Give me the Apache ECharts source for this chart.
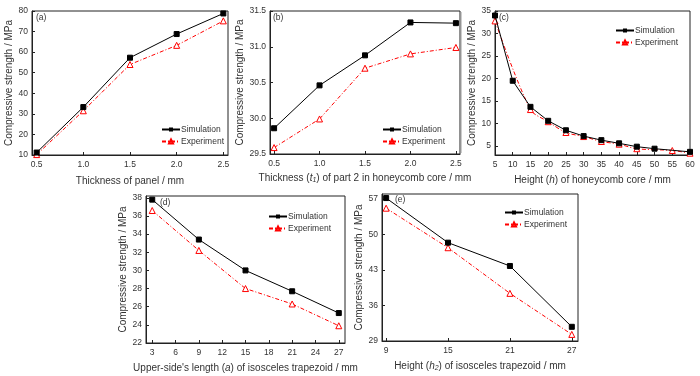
<!DOCTYPE html>
<html>
<head>
<meta charset="utf-8">
<script src="https://cdn.jsdelivr.net/npm/echarts@6/dist/echarts.min.js"></script>
<style>
  html, body { margin: 0; padding: 0; background: #fff; }
  #chart { width: 700px; height: 376px; }
</style>
</head>
<body>
<div id="chart"></div>
<script>
// (a) thickness of panel
var xA = [0.5, 1.0, 1.5, 2.0, 2.5];
var simA = [11.2, 33.3, 57.3, 68.8, 78.8];
var expA = [10.2, 31.5, 54.0, 63.3, 75.2];
// (b) thickness t1 of part 2
var xB = [0.5, 1.0, 1.5, 2.0, 2.5];
var simB = [29.86, 30.46, 30.88, 31.34, 31.33];
var expB = [29.59, 29.99, 30.70, 30.90, 30.99];
// (c) height h of honeycomb core
var xCsim = [5, 10, 15, 20, 25, 30, 35, 40, 45, 50, 60];
var simC = [34.0, 19.5, 13.7, 10.6, 8.5, 7.2, 6.3, 5.6, 4.85, 4.4, 3.7];
var xCexp = [5, 15, 20, 25, 30, 35, 40, 45, 55, 60];
var expC = [32.8, 13.1, 10.4, 8.0, 7.1, 6.0, 5.4, 4.4, 4.0, 3.4];
// (d) upper-side's length a
var xD = [3, 9, 15, 21, 27];
var simD = [37.8, 33.4, 30.0, 27.7, 25.3];
var expD = [36.6, 32.2, 28.0, 26.3, 23.9];
// (e) height h2 of trapezoid
var xE = [9, 15, 21, 27];
var simE = [57.2, 48.4, 43.8, 31.8];
var expE = [55.2, 47.4, 38.4, 30.3];

// tick labels
var ticksX_AB = [0.5, 1.0, 1.5, 2.0, 2.5];
var ticksY_A = [10, 20, 30, 40, 50, 60, 70, 80];
var ticksY_B = [29.5, 30.0, 30.5, 31.0, 31.5];
var ticksX_C = [5, 10, 15, 20, 25, 30, 35, 40, 45, 50, 55, 60];
var ticksY_C = [5, 10, 15, 20, 25, 30, 35];
var ticksX_D = [3, 6, 9, 12, 15, 18, 21, 24, 27];
var ticksY_D = [22, 24, 26, 28, 30, 32, 34, 36, 38];
var ticksX_E = [9, 15, 21, 27];
var ticksY_E = [29, 36, 43, 50, 57];

var FONT = 'Liberation Sans, Arial, sans-serif';
var yName = 'Compressive strength / MPa';

function pairs(xs, ys) {
    return xs.map(function (x, i) { return [x, ys[i]]; });
}

var grids = [
    {left: 32, top: 11, width: 196, height: 144},
    {left: 270, top: 11, width: 190, height: 143},
    {left: 495, top: 11, width: 195, height: 144},
    {left: 146, top: 196, width: 199, height: 147},
    {left: 382, top: 194, width: 196, height: 147}
];
grids.forEach(function (g) {
    g.show = true;
    g.borderColor = '#222';
    g.borderWidth = 1;
    g.backgroundColor = 'transparent';
});

var rich = {
    i: {fontStyle: 'italic', fontSize: 10, fontFamily: FONT, color: '#333'},
    sub: {fontStyle: 'italic', fontSize: 7, fontFamily: FONT, color: '#333', verticalAlign: 'bottom', padding: [4, 0, 0, 0]}
};

function xAxis(idx, min, max, ticks, name, gap, fmt) {
    return {
        type: 'value', gridIndex: idx, min: min, max: max,
        name: name, nameLocation: 'middle', nameGap: gap,
        nameTextStyle: {fontSize: 10, fontFamily: FONT, color: '#333', rich: rich},
        axisLine: {show: true, lineStyle: {color: '#222', width: 1}},
        axisTick: {show: true, inside: true, length: 3, customValues: ticks, lineStyle: {color: '#222'}},
        axisLabel: {customValues: ticks, fontSize: 8.5, fontFamily: FONT, color: '#333', margin: 5,
            formatter: fmt || function (v) { return v; }},
        splitLine: {show: false}
    };
}

function yAxis(idx, min, max, ticks, gap, fmt) {
    return {
        type: 'value', gridIndex: idx, min: min, max: max,
        name: yName, nameLocation: 'middle', nameGap: gap,
        nameTextStyle: {fontSize: 10, fontFamily: FONT, color: '#333'},
        axisLine: {show: true, lineStyle: {color: '#222', width: 1}},
        axisTick: {show: true, inside: true, length: 3, customValues: ticks, lineStyle: {color: '#222'}},
        axisLabel: {customValues: ticks, fontSize: 8.5, fontFamily: FONT, color: '#333', margin: 4,
            formatter: fmt || function (v) { return v; }},
        splitLine: {show: false}
    };
}

var fix1 = function (v) { return v.toFixed(1); };

function simSeries(idx, data) {
    return {
        name: 'Simulation', type: 'line', xAxisIndex: idx, yAxisIndex: idx,
        data: data, symbol: 'rect', symbolSize: 5, showAllSymbol: true,
        lineStyle: {color: '#000', width: 1},
        itemStyle: {color: '#000', borderColor: '#000'},
        z: 3
    };
}

function expSeries(idx, data, smooth) {
    return {
        name: 'Experiment', type: 'line', xAxisIndex: idx, yAxisIndex: idx,
        data: data, symbol: 'triangle', symbolSize: 6, showAllSymbol: true,
        smooth: smooth || false,
        lineStyle: {color: '#ff0000', width: 1, type: [4, 2, 1, 2]},
        itemStyle: {color: '#fff', borderColor: '#ff0000', borderWidth: 1},
        z: 2
    };
}

function legend(left, top) {
    return {
        data: ['Simulation', 'Experiment'], orient: 'vertical', left: left, top: top,
        itemWidth: 18, itemHeight: 5, itemGap: 3, padding: 0,
        textStyle: {fontSize: 8.5, fontFamily: FONT, color: '#333', padding: [0, 0, 0, -4]}
    };
}

function panelLabel(x, y, text) {
    return {type: 'text', left: x, top: y, style: {text: text, fontSize: 8.5, fontFamily: FONT, fill: '#333'}};
}

var option = {
    animation: false,
    grid: grids,
    xAxis: [
        xAxis(0, 0.45, 2.55, ticksX_AB, 'Thickness of panel / mm', 21, fix1),
        xAxis(1, 0.455, 2.545, ticksX_AB, 'Thickness ({i|t}{sub|1}) of part 2 in honeycomb core / mm', 19, fix1),
        xAxis(2, 5, 60, ticksX_C, 'Height ({i|h}) of honeycomb core / mm', 20),
        xAxis(3, 2.2, 27.8, ticksX_D, 'Upper-side\'s length ({i|a}) of isosceles trapezoid / mm', 20),
        xAxis(4, 8.6, 27.6, ticksX_E, 'Height ({i|h}{sub|2}) of isosceles trapezoid / mm', 20)
    ],
    yAxis: [
        yAxis(0, 10, 80, ticksY_A, 15),
        yAxis(1, 29.5, 31.5, ticksY_B, 21, fix1),
        yAxis(2, 3, 35, ticksY_C, 16),
        yAxis(3, 22, 38.2, ticksY_D, 15),
        yAxis(4, 29, 58, ticksY_E, 17)
    ],
    legend: [
        legend(161, 125),
        legend(382, 125),
        legend(615, 26),
        legend(268, 212),
        legend(504, 208)
    ],
    graphic: [
        panelLabel(36, 13, '(a)'),
        panelLabel(273, 13, '(b)'),
        panelLabel(499, 13, '(c)'),
        panelLabel(160, 198, '(d)'),
        panelLabel(395, 195, '(e)'),
        {type: 'line', shape: {x1: 461, y1: 12, x2: 461, y2: 153}, style: {stroke: '#999', lineWidth: 1}}
    ],
    series: [
        simSeries(0, pairs(xA, simA)),
        expSeries(0, pairs(xA, expA)),
        simSeries(1, pairs(xB, simB)),
        expSeries(1, pairs(xB, expB)),
        simSeries(2, pairs(xCsim, simC)),
        expSeries(2, pairs(xCexp, expC), 0.3),
        simSeries(3, pairs(xD, simD)),
        expSeries(3, pairs(xD, expD)),
        simSeries(4, pairs(xE, simE)),
        expSeries(4, pairs(xE, expE))
    ]
};

var chart = echarts.init(document.getElementById('chart'), null, {renderer: 'canvas'});
chart.setOption(option);
</script>
</body>
</html>
